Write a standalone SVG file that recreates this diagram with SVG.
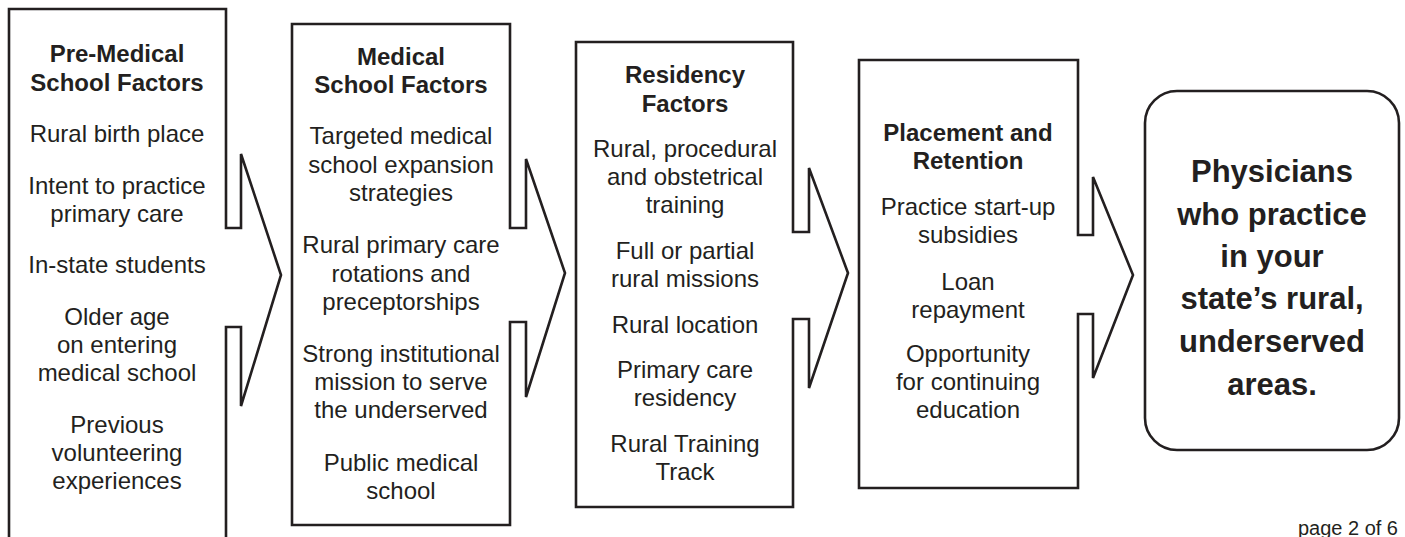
<svg xmlns="http://www.w3.org/2000/svg" width="1405" height="537" viewBox="0 0 1405 537">
<style>
.shape{fill:#fff;stroke:#231f20;stroke-width:2.6;stroke-linejoin:miter}
text{font-family:"Liberation Sans",Arial,sans-serif;fill:#231f20;text-anchor:middle}
.t{font-size:24px;font-weight:bold}
.b{font-size:24px}
.f{font-size:31px;font-weight:bold}
.pg{font-size:20px;text-anchor:end}
</style>
<rect width="1405" height="537" fill="#fff"/>
<g id="connectors"></g>
<g id="premed">
<path class="shape" d="M9,545 V9 H226 V228 H241 V154 L281,275 L241,406 V327 H226 V545"/>
<text class="t" x="117" y="62">Pre-Medical</text>
<text class="t" x="117" y="91">School Factors</text>
<text class="b" x="117" y="142">Rural birth place</text>
<text class="b" x="117" y="194">Intent to practice</text>
<text class="b" x="117" y="222">primary care</text>
<text class="b" x="117" y="273">In-state students</text>
<text class="b" x="117" y="325">Older age</text>
<text class="b" x="117" y="353">on entering</text>
<text class="b" x="117" y="381">medical school</text>
<text class="b" x="117" y="433">Previous</text>
<text class="b" x="117" y="461">volunteering</text>
<text class="b" x="117" y="489">experiences</text>
</g>
<g id="medschool">
<path class="shape" d="M292,24 H510 V228 H526 V159 L565,273 L526,397 V322 H510 V525 H292 Z"/>
<text class="t" x="401" y="65">Medical</text>
<text class="t" x="401" y="93">School Factors</text>
<text class="b" x="401" y="144">Targeted medical</text>
<text class="b" x="401" y="173">school expansion</text>
<text class="b" x="401" y="201">strategies</text>
<text class="b" x="401" y="253">Rural primary care</text>
<text class="b" x="401" y="282">rotations and</text>
<text class="b" x="401" y="310">preceptorships</text>
<text class="b" x="401" y="362">Strong institutional</text>
<text class="b" x="401" y="390">mission to serve</text>
<text class="b" x="401" y="418">the underserved</text>
<text class="b" x="401" y="471">Public medical</text>
<text class="b" x="401" y="499">school</text>
</g>
<g id="residency">
<path class="shape" d="M576,42 H793 V232 H809 V168 L848,273 L809,388 V319 H793 V507 H576 Z"/>
<text class="t" x="685" y="83">Residency</text>
<text class="t" x="685" y="112">Factors</text>
<text class="b" x="685" y="157">Rural, procedural</text>
<text class="b" x="685" y="185">and obstetrical</text>
<text class="b" x="685" y="213">training</text>
<text class="b" x="685" y="259">Full or partial</text>
<text class="b" x="685" y="287">rural missions</text>
<text class="b" x="685" y="333">Rural location</text>
<text class="b" x="685" y="378">Primary care</text>
<text class="b" x="685" y="406">residency</text>
<text class="b" x="685" y="452">Rural Training</text>
<text class="b" x="685" y="480">Track</text>
</g>
<g id="placement">
<path class="shape" d="M859,60 H1078 V235 H1093 V177 L1133,275 L1093,378 V314 H1078 V488 H859 Z"/>
<text class="t" x="968" y="141">Placement and</text>
<text class="t" x="968" y="169">Retention</text>
<text class="b" x="968" y="215">Practice start-up</text>
<text class="b" x="968" y="243">subsidies</text>
<text class="b" x="968" y="290">Loan</text>
<text class="b" x="968" y="318">repayment</text>
<text class="b" x="968" y="362">Opportunity</text>
<text class="b" x="968" y="390">for continuing</text>
<text class="b" x="968" y="418">education</text>
</g>
<g id="outcome">
<rect class="shape" x="1145" y="91" width="254" height="359" rx="32" ry="32"/>
<text class="f" x="1272" y="182">Physicians</text>
<text class="f" x="1272" y="225">who practice</text>
<text class="f" x="1272" y="267">in your</text>
<text class="f" x="1272" y="309">state’s rural,</text>
<text class="f" x="1272" y="352">underserved</text>
<text class="f" x="1272" y="395">areas.</text>
</g>
<text class="pg" x="1398" y="535">page 2 of 6</text>
</svg>
